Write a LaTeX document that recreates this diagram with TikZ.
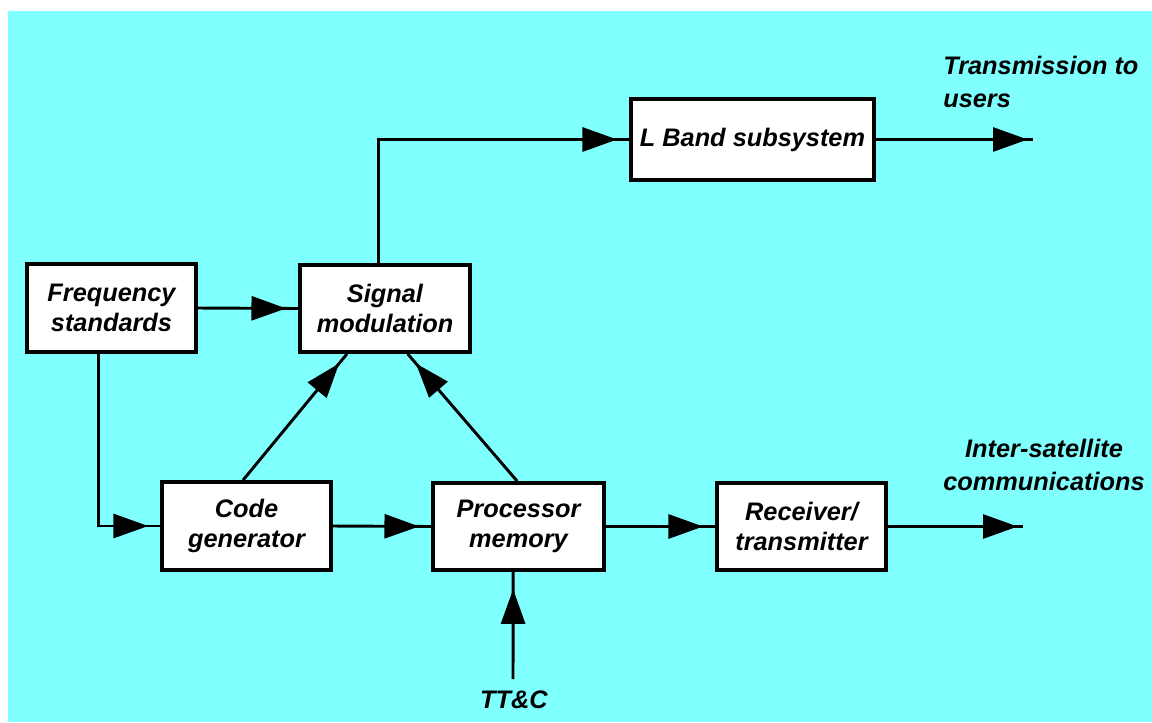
\documentclass[tikz,border=0pt]{standalone}
\usepackage{fontspec}
\setmainfont{Liberation Sans}
\usetikzlibrary{arrows.meta,decorations.markings,calc}
\definecolor{bgcyan}{RGB}{128,255,255}
\tikzset{
  blk/.style={draw=black, fill=white, line width=2.8pt, inner sep=0pt, align=center,
    font=\fontsize{19}{23}\selectfont\bfseries\itshape},
  lbl/.style={inner sep=0pt, font=\fontsize{19}{25}\selectfont\bfseries\itshape},
  wire/.style={line width=2.2pt},
  arr/.style={wire, postaction={decorate}, decoration={markings,
    mark=at position -#1 with {\arrow{Triangle[length=26pt,width=18pt]}}}},
  arr/.default=9pt
}
\begin{document}
\begin{tikzpicture}[x=0.75pt,y=-0.75pt]
\useasboundingbox (0,0) rectangle (1152,722);
\fill[white] (0,0) rectangle (1152,722);
\fill[bgcyan] (8,11) rectangle (1152,722);

\node[blk, minimum width=169*0.75pt, minimum height=88*0.75pt] (freq) at (111.5,308) {Frequency\\standards};
\node[blk, minimum width=170*0.75pt, minimum height=87*0.75pt] (sig) at (385,308.5) {Signal\\modulation};
\node[blk, minimum width=243*0.75pt, minimum height=81*0.75pt] (lband) at (752.5,139.5) {L Band subsystem};
\node[blk, minimum width=169*0.75pt, minimum height=88*0.75pt] (code) at (246.5,526) {Code\\generator};
\node[blk, minimum width=171*0.75pt, minimum height=87*0.75pt] (proc) at (518.5,526.5) {Processor\\memory};
\node[blk, minimum width=169*0.75pt, minimum height=87*0.75pt] (recv) at (801.5,526.5) {Receiver/\\transmitter};

\coordinate (usersend) at (1033,139.5);
\coordinate (isend) at (1023,526.5);
\coordinate (ttcend) at (513,679);

\node[lbl, anchor=west, align=left] (txlbl) at (943,82) {Transmission to\\users};
\node[lbl, align=center] (islbl) at (1044,465) {Inter-satellite\\communications};
\node[lbl] (ttc) at (514,700) {TT\&C};

\draw[arr] (freq.east) -- (sig.west);
\draw[arr] ([xshift=-10pt]freq.south) |- (code.west);
\draw[arr] ([xshift=-2.6pt]code.north) -- ([xshift=-28.5pt]sig.south);
\draw[arr] ([xshift=-1pt]proc.north) -- ([xshift=17pt]sig.south);
\draw[arr] ([xshift=-5pt]sig.north) |- (lband.west);
\draw[arr=4pt] (lband.east) -- (usersend);
\draw[arr] (code.east) -- (proc.west);
\draw[arr] (proc.east) -- (recv.west);
\draw[arr=4pt] (recv.east) -- (isend);
\draw[arr=13pt] (ttcend) -- ([xshift=-4pt]proc.south);
\end{tikzpicture}
\end{document}
